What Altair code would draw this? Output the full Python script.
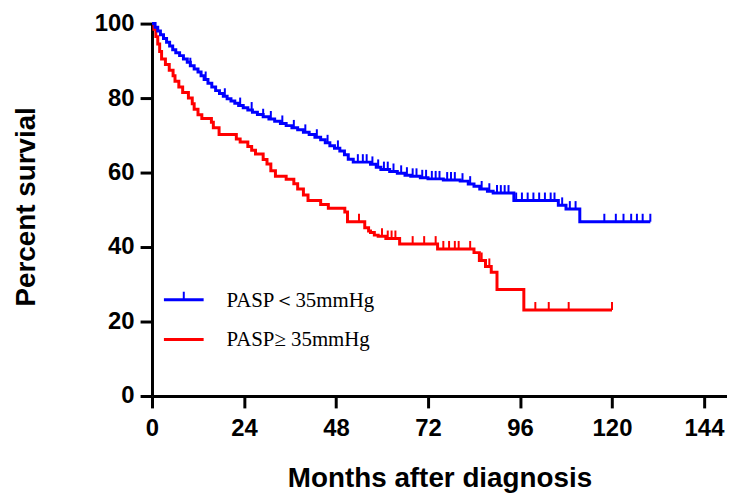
import altair as alt
import pandas as pd

# ---- data ----
groups = ["PASP＜35mmHg", "PASP≥ 35mmHg"]
colors = ["#0000FF", "#FF0000"]

# PASP < 35 mmHg : step times (months) and survival (%) after each step
low_months = [0, 0.8, 1.5, 2.2, 3, 3.8, 4.6, 5.4, 6.2, 7.2, 8.2, 9.2, 10, 11, 12, 12.8,
              13.6, 14.6, 15.6, 16.6, 17.6, 18.6, 19.6, 20.6, 21.6, 22.6, 23.8, 25,
              26.2, 27.5, 29, 30.5, 32, 33.5, 35, 36.5, 38, 39.5, 41, 42.5, 44, 45.2,
              46.4, 47.6, 49, 50.2, 51.2, 52.5, 57, 58.5, 59.7, 62, 64, 66, 67.5, 70,
              72, 76, 80.4, 82.5, 84, 85.5, 87.5, 89, 94.4, 106, 108, 111.6, 130]
low_surv = [100, 99, 98, 97, 96, 95, 94, 93, 92.2, 91.4, 90.5, 89.6, 88.7, 87.8, 87, 86,
            85, 84, 83, 82, 81.2, 80.5, 79.8, 79.2, 78.6, 78, 77.4, 76.8,
            76.2, 75.6, 75, 74.4, 73.8, 73.2, 72.6, 72, 71.5, 70.8, 70.2, 69.5, 68.8, 68,
            67.2, 66.5, 65.8, 64.8, 63.6, 62.8, 62.2, 61.4, 60.8, 60.3, 59.8, 59.3, 59, 58.6,
            58.3, 58, 57.7, 56.9, 56.3, 55.6, 55, 54.5, 52.5, 51.2, 50.2, 46.8, 46.8]
low_censor = [10, 14, 19, 23, 26, 29, 31, 34, 37, 40, 43, 45.8, 48.5, 53.7, 55, 56,
              57.5, 59, 60.5, 61.5, 63, 65, 66.5, 68, 69, 70.5, 71.5, 73, 74, 75, 77,
              78, 79, 81, 83, 86, 88, 90, 91, 92, 93, 95, 96.5, 98, 99.5, 101, 102.5,
              104, 105, 107, 109, 110.5, 118, 121, 123, 125, 126.5, 128, 130]

# PASP >= 35 mmHg
high_months = [0, 0.5, 1, 1.5, 2, 2.5, 3.5, 4.5, 5.5, 6, 7, 8, 9.5, 10.5, 11, 12, 13,
               15.5, 16, 17.5, 22, 23, 25, 26, 27, 29, 30, 31, 32.2, 35, 37, 38, 39.5,
               40.7, 44, 46, 50.3, 51, 55.5, 56.5, 57, 58, 59, 61, 64.6, 74.5, 84, 85.4,
               87, 88.5, 90, 97, 120]
high_surv = [100, 98.5, 96.5, 94.5, 92.5, 90.5, 89, 87.5, 86, 84.5, 83, 81.5, 80, 78.5,
             77, 75.5, 74.5, 73.5, 72, 70.2, 69, 68.2, 67, 66, 65, 63.5, 62.3, 60.5, 59,
             58.2, 57, 55.6, 54, 52.5, 51.4, 50.4, 49.4, 46.8, 45.2, 44.3, 43.9, 43.2,
             42.9, 42.3, 40.8, 39.5, 38.5, 36.4, 34.8, 33.2, 28.6, 23.1, 23.1]
high_censor = [54, 60, 61.5, 62.5, 63.5, 68, 71, 74, 76, 77.5, 79, 80, 83, 86, 88,
               100, 103.5, 108.7, 120]

x_ticks = [0, 24, 48, 72, 96, 120, 144]
y_ticks = [0, 20, 40, 60, 80, 100]


def level_at(months, surv, t):
    val = surv[0]
    for m, s in zip(months, surv):
        if m <= t:
            val = s
    return val


curve_rows = []
for g, ms, ss in [(groups[1], high_months, high_surv), (groups[0], low_months, low_surv)]:
    for m, s in zip(ms, ss):
        curve_rows.append({"group": g, "month": m, "surv": s})
curves = pd.DataFrame(curve_rows)

cens_rows = []
for g, cs, ms, ss in [(groups[1], high_censor, high_months, high_surv),
                      (groups[0], low_censor, low_months, low_surv)]:
    for c in cs:
        cens_rows.append({"group": g, "month": c, "surv": level_at(ms, ss, c)})
censors = pd.DataFrame(cens_rows)

color_scale = alt.Scale(domain=groups, range=colors)
x_scale = alt.Scale(domain=[0, 150], nice=False, zero=True)
y_scale = alt.Scale(domain=[0, 100], nice=False)

x_enc = alt.X("month:Q", scale=x_scale,
              axis=alt.Axis(values=x_ticks, title="Months after diagnosis",
                            labelFlush=False, labelPadding=9,
                            titleY=91, titleBaseline="alphabetic"))
y_enc = alt.Y("surv:Q", scale=y_scale,
              axis=alt.Axis(values=y_ticks, title="Percent survial",
                            titleX=-126, titleY=184, titleAngle=270,
                            titleAlign="center", titleBaseline="middle"))

lines = alt.Chart(curves).mark_line(interpolate="step-after", strokeWidth=3).encode(
    x=x_enc, y=y_enc,
    color=alt.Color("group:N", scale=color_scale, legend=None),
    detail="group:N",
    order=alt.Order("month:Q"),
)

ticks = alt.Chart(censors).mark_point(
    shape="M0,0L0,-1", size=256, strokeWidth=2, filled=False, opacity=1
).encode(
    x=alt.X("month:Q", scale=x_scale),
    y=alt.Y("surv:Q", scale=y_scale),
    color=alt.Color("group:N", scale=color_scale, legend=None),
)

# ---- manual legend (inside the plot, lower left) ----
legend_layers = []
legend_y = [278, 318]
for i, g in enumerate(groups):
    d = pd.DataFrame({"label": [g]})
    legend_layers.append(
        alt.Chart(d).mark_rule(color=colors[i], strokeWidth=3).encode(
            x=alt.value(12), x2=alt.value(52), y=alt.value(legend_y[i]))
    )
    legend_layers.append(
        alt.Chart(d).mark_text(align="left", baseline="middle", font="Liberation Serif",
                               fontSize=21, color="black").encode(
            x=alt.value(75), y=alt.value(legend_y[i] + 1), text="label:N")
    )
legend_layers.append(
    alt.Chart(pd.DataFrame({"label": [groups[0]]})).mark_rule(
        color=colors[0], strokeWidth=2).encode(
        x=alt.value(32), y=alt.value(legend_y[0]), y2=alt.value(legend_y[0] - 8))
)

chart = alt.layer(lines, ticks, *legend_layers).properties(
    width=579, height=375,
    autosize=alt.AutoSizeParams(type="none"),
    padding={"left": 145, "top": 14, "right": 0, "bottom": 99},
).configure_view(stroke=None).configure_axis(
    grid=False,
    domainColor="black", domainWidth=3,
    tickColor="black", tickWidth=3, tickSize=12,
    labelColor="black", labelFont="Liberation Sans", labelFontWeight="bold",
    labelFontSize=24, labelPadding=6,
    titleColor="black", titleFont="Liberation Sans", titleFontWeight="bold",
    titleFontSize=28,
)

chart.save("out.html", embed_options={"renderer": "svg", "actions": False})
